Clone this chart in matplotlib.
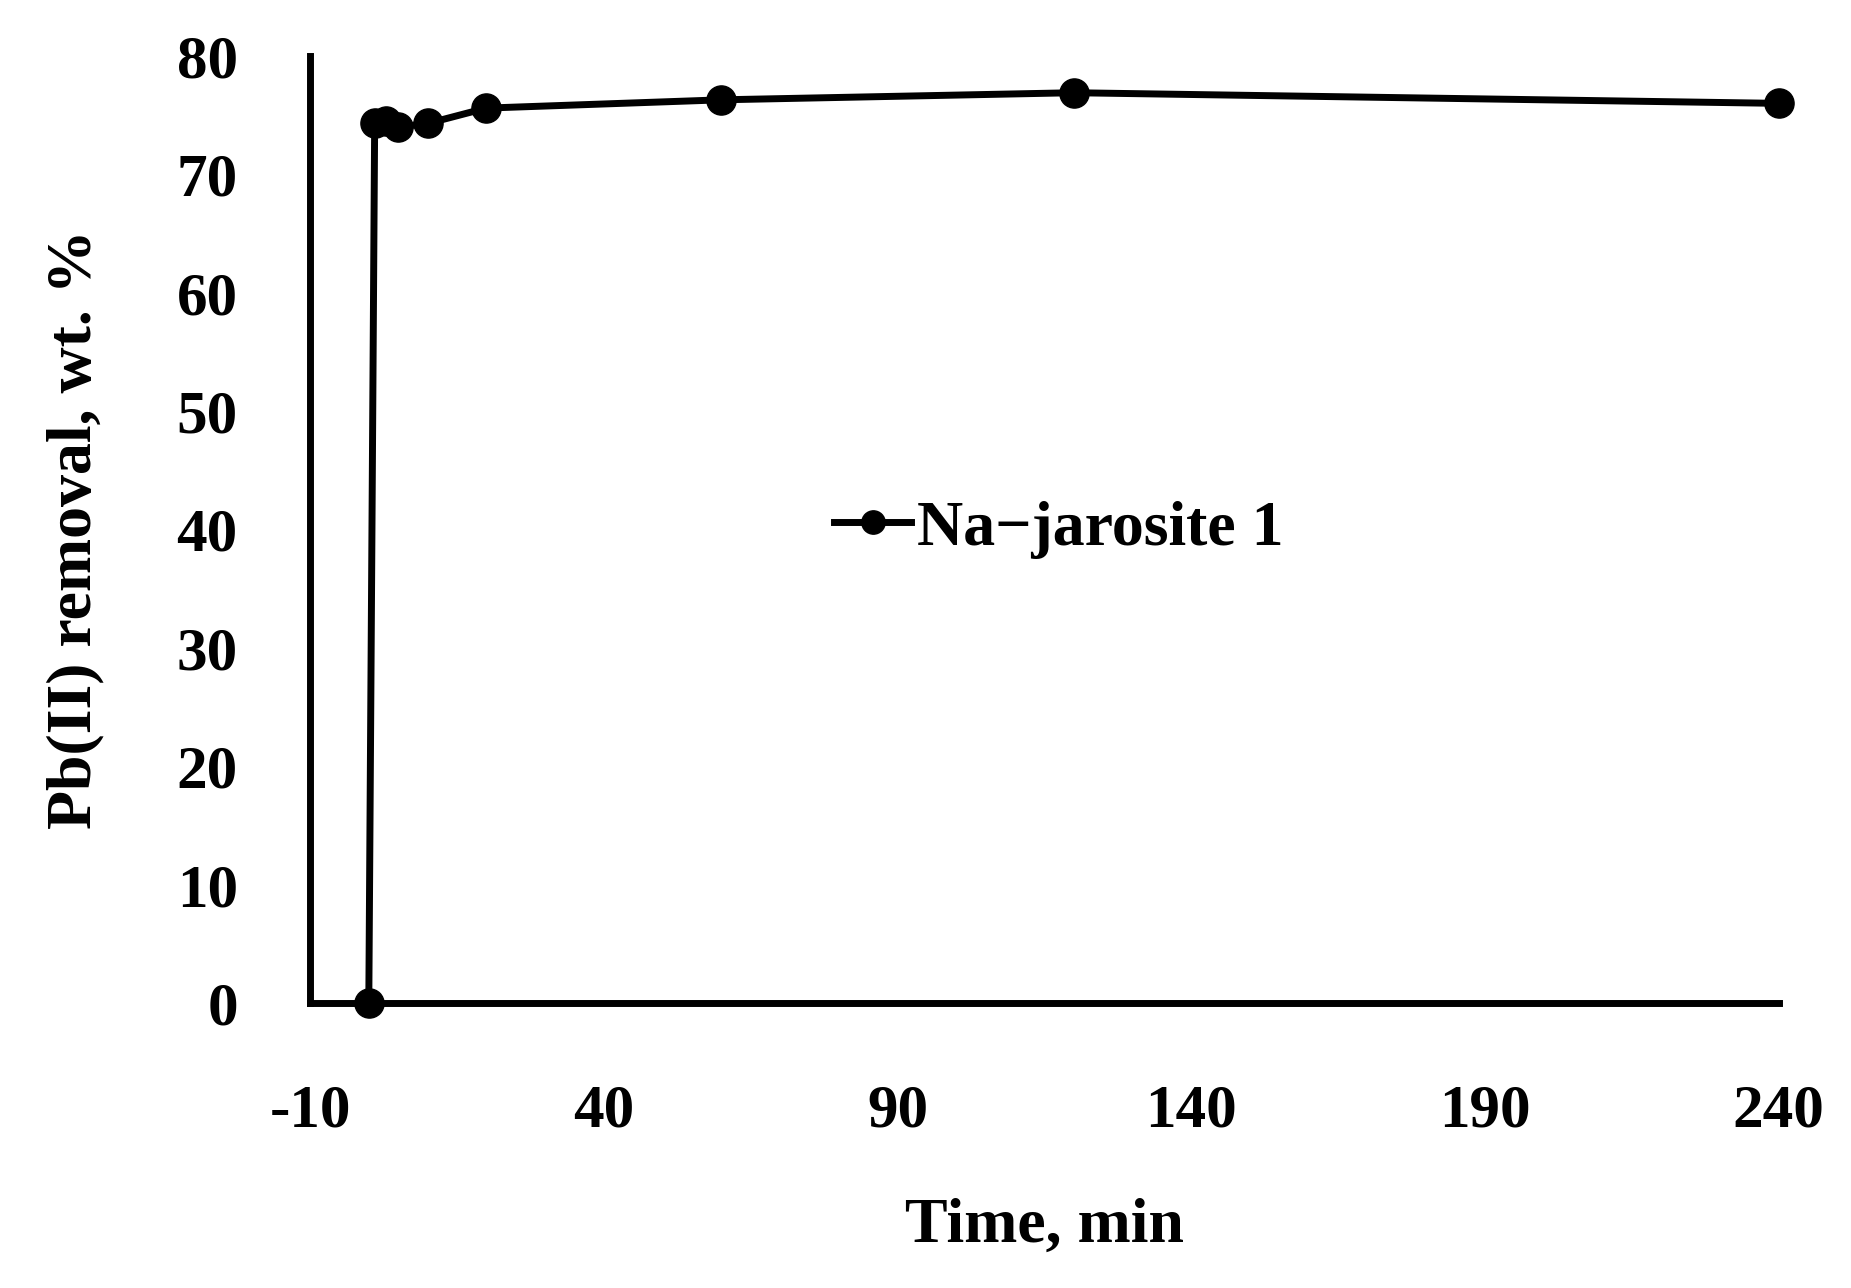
import numpy as np
import matplotlib.pyplot as plt

# data
time_min = [0, 1, 3, 5, 10, 20, 60, 120, 240]
pb_removal = [0, 74.3, 74.5, 74.0, 74.3, 75.6, 76.3, 76.9, 76.0]
series_name = 'Na\u2212jarosite 1'
x_ticks = [-10, 40, 90, 140, 190, 240]
y_ticks = [0, 10, 20, 30, 40, 50, 60, 70, 80]

plt.rcParams['font.family'] = ['Liberation Serif', 'DejaVu Serif']
plt.rcParams['font.weight'] = 'bold'
plt.rcParams['axes.unicode_minus'] = False

fig = plt.figure(figsize=(18.51, 12.88), dpi=100)
ax = fig.add_axes([0.1675, 0.2213, 0.961 - 0.1675, 0.9565 - 0.2213])

ax.plot(time_min, pb_removal, color='black', lw=5, marker='o', ms=21,
        clip_on=False, label=series_name, zorder=5)

ax.set_xlim(-10, 240)
ax.set_ylim(0, 80)
ax.set_xticks(x_ticks)
ax.set_yticks(y_ticks)

for s in ['top', 'right']:
    ax.spines[s].set_visible(False)
for s in ['left', 'bottom']:
    ax.spines[s].set_linewidth(5)

ax.tick_params(axis='both', length=0, labelsize=44)
ax.tick_params(axis='x', pad=58)
ax.tick_params(axis='y', pad=52)
for lab in ax.get_xticklabels() + ax.get_yticklabels():
    lab.set_fontweight('bold')

ax.set_xlabel('Time, min', fontsize=46, fontweight='bold', labelpad=42)
ax.set_ylabel('Pb(II) removal, wt. %', fontsize=46, fontweight='bold', labelpad=52)

ax.legend(loc='center', bbox_to_anchor=(0.51, 0.5), frameon=False,
          handlelength=1.2, handletextpad=0.1, markerscale=0.8,
          prop={'weight': 'bold', 'size': 46})

fig.savefig('out.png', dpi=100)
